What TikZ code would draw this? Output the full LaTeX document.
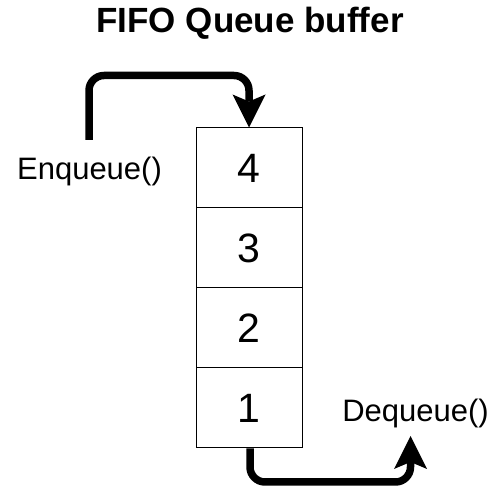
\documentclass[tikz,border=0pt]{standalone}
\usepackage{fontspec}
\setmainfont{Liberation Sans}
\usetikzlibrary{arrows.meta}
\begin{document}
\begin{tikzpicture}[x=1pt,y=-1pt,
  cell/.style={draw=black,line width=1pt,rectangle,minimum width=106pt,minimum height=80pt,inner sep=0pt,font=\fontsize{41}{46}\selectfont},
  lbl/.style={anchor=base,inner sep=0pt,font=\fontsize{31}{36}\selectfont},
  flow/.style={line width=7.5pt,rounded corners=15pt,-{Stealth[length=33pt,width=33pt,inset=7pt,line width=0pt]}}]
\useasboundingbox (0,0) rectangle (496,494);
\node[anchor=base,inner sep=0pt,font=\fontsize{35}{40}\selectfont\bfseries] (title) at (250,33) {FIFO Queue buffer};
\node[cell] (b4) at (249,168) {4};
\node[cell] (b3) at (249,248) {3};
\node[cell] (b2) at (249,328) {2};
\node[cell] (b1) at (249,408) {1};
\node[lbl] (enq) at (89.5,180) {Enqueue()};
\node[lbl] (deq) at (415.5,422) {Dequeue()};
\coordinate (enqstart) at (89,140);
\coordinate (enqtop) at (249,75.5);
\coordinate (deqbot) at (250,482);
\coordinate (deqend) at (410.5,436);
\draw[flow] (enqstart) |- (enqtop) -- (b4.north);
\draw[flow] (b1.south -| deqbot) -- (deqbot) -| (deqend);
\end{tikzpicture}
\end{document}
